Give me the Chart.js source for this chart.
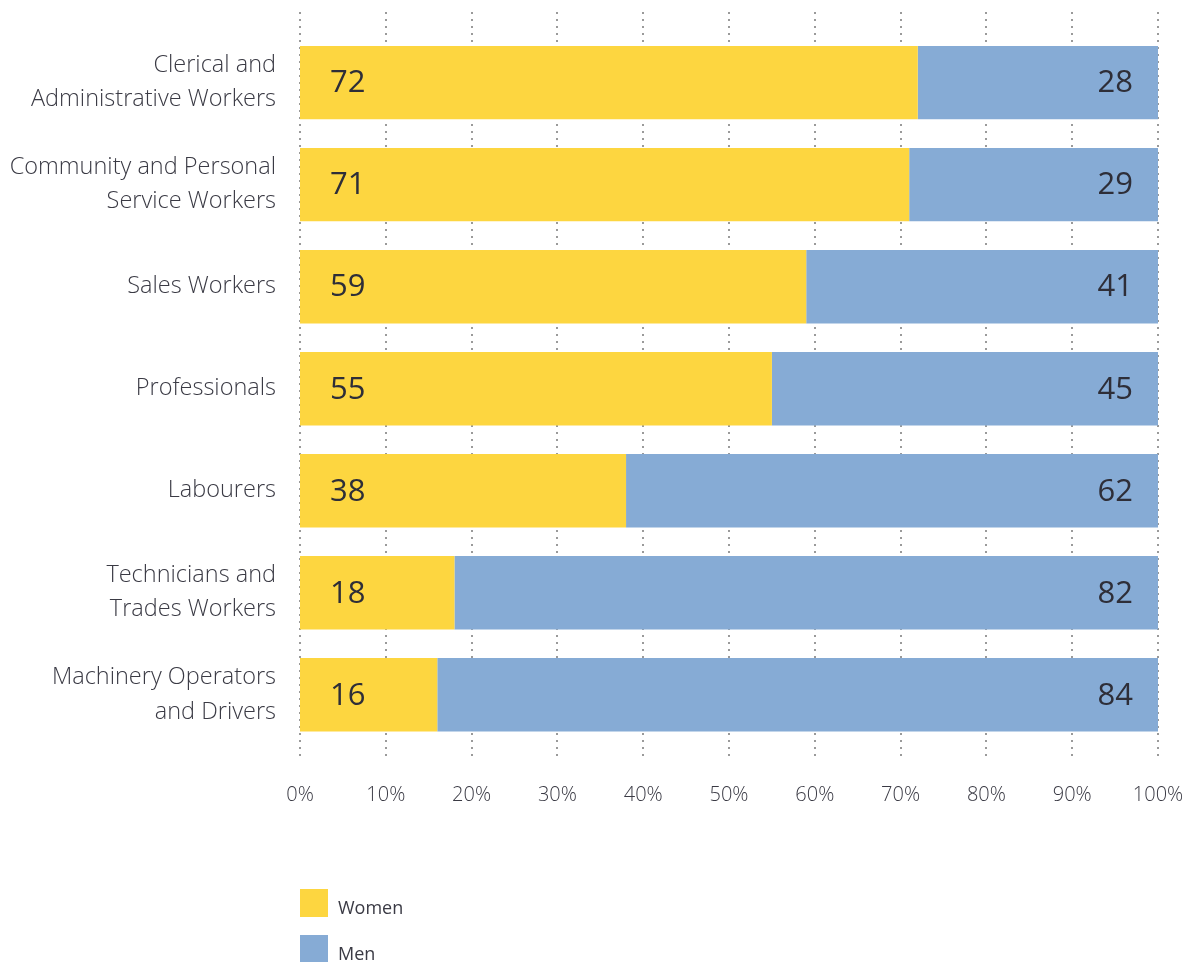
<!DOCTYPE html>
<html>
<head>
<meta charset="utf-8">
<script src="https://cdn.jsdelivr.net/npm/chart.js@4/dist/chart.umd.min.js"></script>
<style>
  html, body { margin: 0; padding: 0; background: #fff; }
  #wrap { position: relative; width: 1192px; height: 962px; }
</style>
</head>
<body>
<div id="wrap"><canvas id="chart"></canvas></div>
<script>
const occupations = [
  ["Clerical and", "Administrative Workers"],
  ["Community and Personal", "Service Workers"],
  "Sales Workers",
  "Professionals",
  "Labourers",
  ["Technicians and", "Trades Workers"],
  ["Machinery Operators", "and Drivers"]
];
const women = [72, 71, 59, 55, 38, 18, 16];
const men = [28, 29, 41, 45, 62, 82, 84];
const xTicks = [0, 10, 20, 30, 40, 50, 60, 70, 80, 90, 100];

const YELLOW = "#fdd640";
const BLUE = "#86abd5";
const TEXT = "#3a3a44";
const FONT = "'Open Sans', 'Noto Sans', sans-serif";

// dotted vertical grid, drawn behind the bars and a little past the plot area
const dottedGrid = {
  id: "dottedGrid",
  beforeDatasetsDraw(chart) {
    const { ctx, chartArea, scales } = chart;
    ctx.save();
    ctx.fillStyle = "#9a9a9a";
    xTicks.forEach(v => {
      const x = Math.round(scales.x.getPixelForValue(v));
      for (let y = chartArea.top - 20; y <= chartArea.bottom + 14; y += 7) {
        ctx.fillRect(x - 1, Math.round(y), 2, 2);
      }
    });
    ctx.restore();
  }
};

// value labels: women at the start of the bar, men at the end
const barValues = {
  id: "barValues",
  afterDatasetsDraw(chart) {
    const { ctx } = chart;
    ctx.save();
    ctx.font = `400 31px ${FONT}`;
    ctx.fillStyle = "#2e2e38";
    ctx.textBaseline = "middle";
    chart.getDatasetMeta(0).data.forEach((bar, i) => {
      ctx.textAlign = "left";
      ctx.fillText(women[i], bar.base + 30, bar.y + 1);
    });
    chart.getDatasetMeta(1).data.forEach((bar, i) => {
      ctx.textAlign = "right";
      ctx.fillText(men[i], bar.x - 25, bar.y + 1);
    });
    ctx.restore();
  }
};

// stacked square legend under the axis
const squareLegend = {
  id: "squareLegend",
  afterDraw(chart) {
    const { ctx, chartArea } = chart;
    ctx.save();
    ctx.font = `400 18px ${FONT}`;
    ctx.textBaseline = "middle";
    ctx.textAlign = "left";
    chart.data.datasets.forEach((ds, i) => {
      const y = 889 + i * 46;
      ctx.fillStyle = ds.backgroundColor;
      ctx.fillRect(chartArea.left, y, 28, 28);
      ctx.fillStyle = TEXT;
      ctx.fillText(ds.label, chartArea.left + 38, y + 20);
    });
    ctx.restore();
  }
};

new Chart(document.getElementById("chart"), {
  type: "bar",
  data: {
    labels: occupations,
    datasets: [
      { label: "Women", data: women, backgroundColor: YELLOW },
      { label: "Men", data: men, backgroundColor: BLUE }
    ]
  },
  options: {
    indexAxis: "y",
    responsive: true,
    maintainAspectRatio: false,
    animation: false,
    layout: { padding: { top: 31.6, right: 34, bottom: 118.2, left: 0 } },
    barPercentage: 0.72,
    categoryPercentage: 1,
    plugins: {
      legend: { display: false },
      tooltip: { enabled: false }
    },
    scales: {
      x: {
        stacked: true,
        min: 0,
        max: 100,
        border: { display: false },
        grid: { display: false, drawTicks: false },
        afterBuildTicks(axis) { axis.ticks = xTicks.map(v => ({ value: v })); },
        afterFit(axis) { axis.paddingLeft = 0; axis.paddingRight = 0; },
        ticks: {
          padding: 37,
          color: TEXT,
          font: { family: FONT, size: 20, weight: 300 },
          callback: v => v + "%"
        }
      },
      y: {
        stacked: true,
        border: { display: false },
        grid: { display: false, drawTicks: false },
        afterFit(axis) {
          axis.width = 300;
          axis.paddingTop = 0;
          axis.paddingBottom = 0;
        },
        ticks: {
          padding: 24,
          color: TEXT,
          font: { family: FONT, size: 23.5, weight: 300, lineHeight: 1.45 }
        }
      }
    }
  },
  plugins: [dottedGrid, barValues, squareLegend]
});
</script>
</body>
</html>
